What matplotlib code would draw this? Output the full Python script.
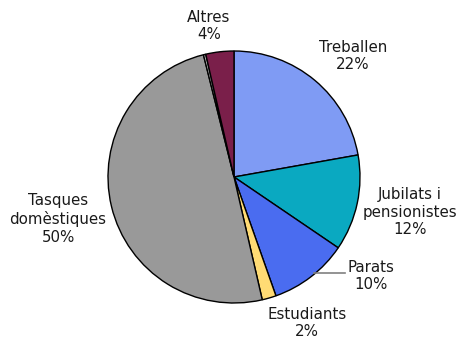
import matplotlib.pyplot as plt

# shares per group (%), clockwise from 12 o'clock
groups = ['Treballen', 'Jubilats i\npensionistes', 'Parats', 'Estudiants',
          'Tasques\ndomèstiques', 'NS/NC', 'Altres']
shares = [22.2, 12.3, 10.1, 1.8, 49.7, 0.3, 3.6]
colors = ['#7f9bf4', '#0aa9c1', '#4a6cf0', '#ffdb74', '#999999', '#c0c0c0', '#7a1f4a']

# label anchor (pixels, top-left origin); None = no label
label_pos = [(353, 56), (410, 212), (371, 276), (307, 323),
             (58, 219), None, (209, 26)]

W, H = 461, 338
fig = plt.figure(figsize=(W / 100, H / 100), dpi=100)
ax = fig.add_axes([0, 0, 1, 1])

ax.pie(shares, colors=colors, startangle=90, counterclock=False,
       center=(234, H - 177), radius=126,
       wedgeprops=dict(edgecolor='black', linewidth=1))

for name, val, pos in zip(groups, shares, label_pos):
    if pos is None:
        continue
    ax.text(pos[0], H - pos[1], f'{name}\n{val:.0f}%', ha='center', va='center',
            fontsize=10.8, color='#1a1a1a', linespacing=1.2)

# leader line for Parats
ax.plot([314, 345], [H - 273, H - 273], color='#808080', lw=1.2)

ax.set_xlim(0, W)
ax.set_ylim(0, H)
ax.set_aspect('equal')
ax.axis('off')

fig.savefig('out.png', dpi=100)
